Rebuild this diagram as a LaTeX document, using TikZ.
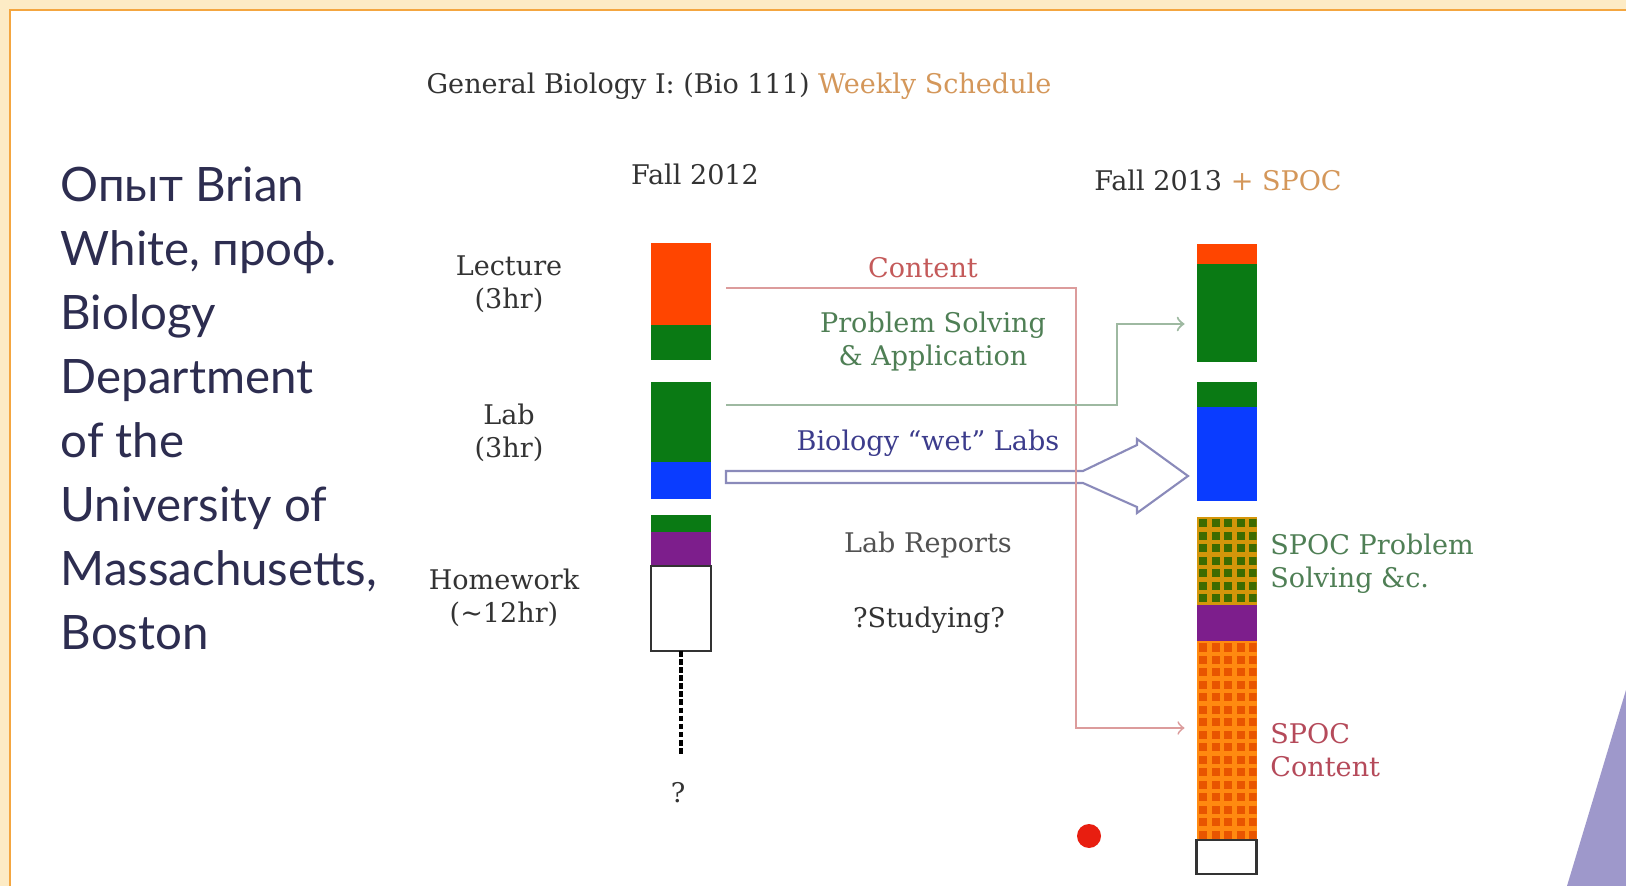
\documentclass[tikz,border=0pt]{standalone}
\usepackage{fontspec}
\setmainfont{DejaVu Serif}
\newfontfamily\rusfont{Lato}
\usetikzlibrary{positioning}

\definecolor{bgorange}{HTML}{FDEBC5}
\definecolor{frameline}{HTML}{F4A640}
\definecolor{lavender}{HTML}{9E98CB}
\definecolor{orng}{HTML}{FF4500}
\definecolor{grn}{HTML}{0A7A14}
\definecolor{blu}{HTML}{0A3CFF}
\definecolor{purp}{HTML}{7D1E8C}
\definecolor{pgbg}{HTML}{D4960A}
\definecolor{pgdot}{HTML}{3D6B00}
\definecolor{pobg}{HTML}{FF8A10}
\definecolor{podot}{HTML}{E85500}
\definecolor{txtgray}{HTML}{333333}
\definecolor{contentred}{HTML}{C45A5A}
\definecolor{psgreen}{HTML}{4F7F55}
\definecolor{wetblue}{HTML}{3C3C8C}
\definecolor{spocred}{HTML}{B54A5A}
\definecolor{accent}{HTML}{D4975A}
\definecolor{rustext}{HTML}{2D2D50}
\definecolor{reddot}{HTML}{E81E10}

\begin{document}
\begin{tikzpicture}[x=0.1mm,y=-0.1mm,
every node/.style={font=\fontsize{7.7}{9.4}\selectfont, text=txtgray},
seg/.style={inner sep=0, outer sep=0, minimum width=6mm},
whiteseg/.style={seg, fill=white, draw=txtgray, line width=0.6pt},
label/.style={align=center},
contentln/.style={draw=contentred!60, line width=0.5pt, ->},
psln/.style={draw=psgreen!55, line width=0.6pt, ->},
wetarrow/.style={draw=wetblue!60, line width=0.6pt},
dashln/.style={line width=0.9pt, dash pattern=on 1.6pt off 0.7pt}
]
\useasboundingbox (0,0) rectangle (1626,886);
% Rahmen
\fill[bgorange] (0,0) rectangle (1626,886);
\fill[white] (10,10) rectangle (1626,886);
\draw[frameline, line width=0.6pt] (10,886) -- (10,10) -- (1626,10);
\fill[lavender] (1626,690) -- (1567,886) -- (1626,886) -- cycle;
% Titel
\node (titel) at (739,86) {General Biology I: (Bio 111) \textcolor{accent}{Weekly Schedule}};
\node (f12) at (695,174) {Fall 2012};
\node (f13) at (1218,180) {Fall 2013 \textcolor{accent}{+ SPOC}};
% Links
\node[anchor=north west, inner sep=0, align=left, text=rustext,
  font=\rusfont\fontsize{13.5}{18.2}\selectfont] (opyt) at (60,166)
  {Опыт Brian\\White, проф.\\Biology\\Department\\of the\\University of\\Massachusetts,\\Boston};
% Fall 2012
\node[seg, fill=orng, minimum height=8.2mm] (lec) at (681,284) {};
\node[seg, fill=grn, minimum height=3.5mm] (lecg) at (681,342.5) {};
\node[seg, fill=grn, minimum height=8mm] (labg) at (681,422) {};
\node[seg, fill=blu, minimum height=3.7mm] (labb) at (681,480.5) {};
\node[seg, fill=grn, minimum height=1.7mm] (hwg) at (681,523.5) {};
\node[seg, fill=purp, minimum height=3.4mm] (hwp) at (681,549) {};
\node[whiteseg, minimum height=8.5mm] (hww) at (681,608.5) {};
\node (qm) at (678,793) {?};
\node[label] (lecl) at (509,284) {Lecture\\(3hr)};
\node[label] (labl) at (509,433) {Lab\\(3hr)};
\node[label] (hwl) at (504,598) {Homework\\(\textasciitilde12hr)};
% Fall 2013
\node[seg, fill=orng, minimum height=2mm] (rc) at (1226.5,254) {};
\node[seg, fill=grn, minimum height=9.8mm] (rg) at (1226.5,313) {};
\node[seg, fill=grn, minimum height=2.5mm] (rlg) at (1226.5,394.5) {};
\node[seg, fill=blu, minimum height=9.4mm] (rb) at (1226.5,454) {};
\node[seg, fill=pgbg, minimum height=8.8mm] (sps) at (1226.5,561) {};
\node[seg, fill=purp, minimum height=3.6mm] (spp) at (1226.5,623) {};
\node[seg, fill=pobg, minimum height=19.9mm] (scont) at (1226.5,740.5) {};
\node[whiteseg, minimum height=3.4mm] (swh) at (1226.5,857) {};
\begin{scope}
\clip (sps.north west) rectangle (sps.south east);
\foreach \i in {0,...,4}
  \foreach \j in {0,...,7}
    \fill[pgdot] ([xshift=\i*1.25mm+0.25mm, yshift=-\j*1.25mm-0.25mm]sps.north west) rectangle ++(8,8);
\end{scope}
\begin{scope}
\clip (scont.north west) rectangle (scont.south east);
\foreach \i in {0,...,4}
  \foreach \j in {0,...,15}
    \fill[podot] ([xshift=\i*1.25mm+0.25mm, yshift=-\j*1.25mm-0.25mm]scont.north west) rectangle ++(8,8);
\end{scope}
% Mitte
\node[text=contentred] (content) at (923,268) {Content};
\node[label, text=psgreen] (ps) at (933,342) {Problem Solving\\\& Application};
\node[text=wetblue] (wet) at (928,443) {Biology “wet” Labs};
\node[text=txtgray!85] (labrep) at (928,545) {Lab Reports};
\node (study) at (929,620) {?Studying?};
\node[anchor=west, align=left, text=psgreen] (spocps) at (1258,564) {SPOC Problem\\Solving \&c.};
\node[anchor=west, align=left, text=spocred] (spocc) at (1258,750) {SPOC\\Content};
% Pfeile
\coordinate (wa) at ([xshift=1.5mm,yshift=0.35mm]labb.east);
\draw[wetarrow] ([yshift=0.6mm]wa) -- ++(357,0) -- ++(54,-26) -- ++(0,-6) -- ++(51,37)
  -- ++(-51,37) -- ++(0,-6) -- ++(-54,-24) -- ++(-357,0) -- cycle;
\draw[contentln] ([xshift=1.5mm,yshift=-0.4mm]lec.east) -- ++(350,0) |- ([xshift=-1.2mm,yshift=1.25mm]scont.west);
\draw[psln] ([xshift=1.5mm,yshift=1.7mm]labg.east) -- ++(391,0) |- ([xshift=-1.2mm,yshift=-1.1mm]rg.west);
\draw[dashln] (hww.south) -- ([yshift=1.6mm]hww.south |- qm.north);
\fill[reddot] (1089,836) circle (1.2mm);
\end{tikzpicture}
\end{document}
